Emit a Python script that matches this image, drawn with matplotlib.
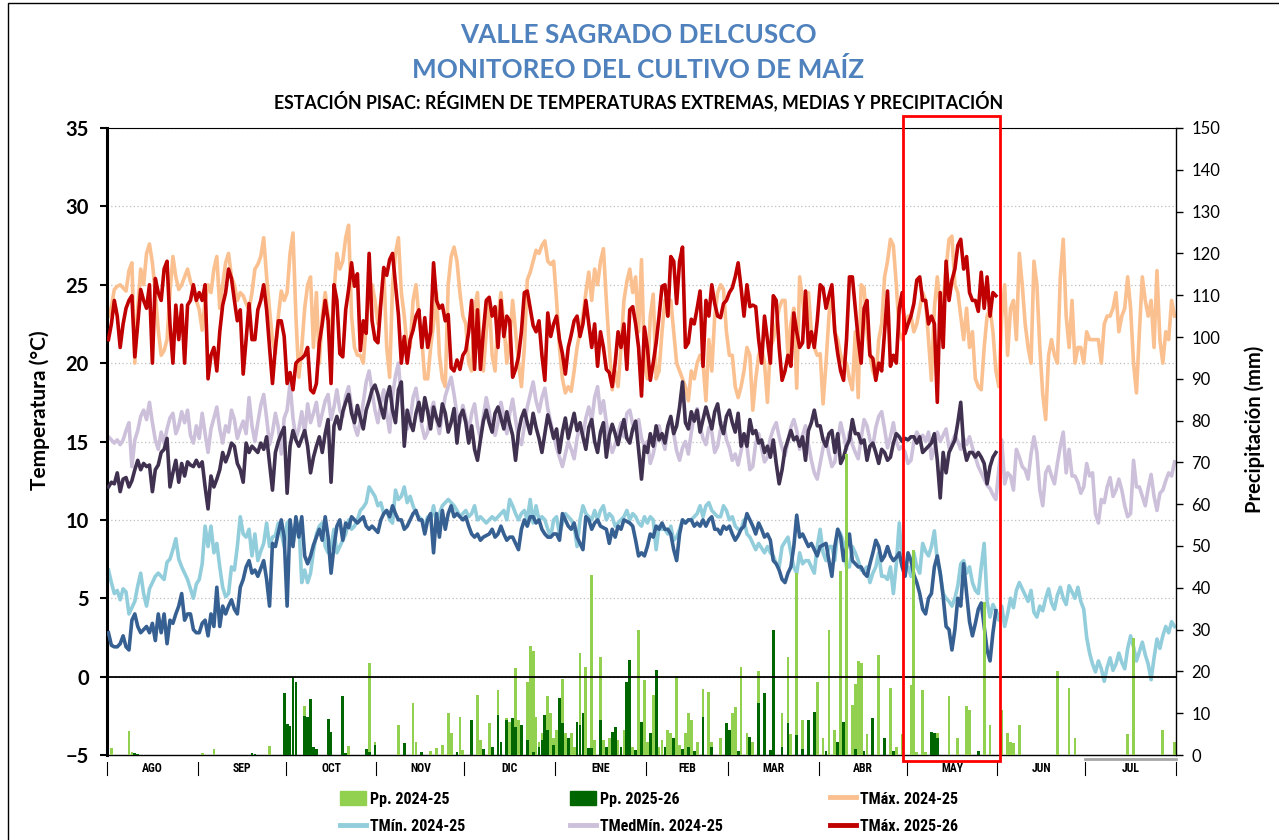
import numpy as np
import matplotlib
matplotlib.use('Agg')
import matplotlib.pyplot as plt
from matplotlib import transforms
from matplotlib import font_manager as fm
from matplotlib.patches import Rectangle, Patch
from matplotlib.lines import Line2D

# meses de la campaña (agosto a julio)
meses = ['AGO', 'SEP', 'OCT', 'NOV', 'DIC', 'ENE', 'FEB', 'MAR', 'ABR', 'MAY', 'JUN', 'JUL']
dias_mes = [31, 30, 31, 30, 31, 31, 28, 31, 30, 31, 30, 31]

# TMáx. 2024-25 (°C), un valor por día
tmax_2425 = [
    23.0, 23.6, 24.7, 24.9, 25.0, 24.8, 24.6, 25.9, 26.4, 20.0, 23.5, 26.0, 25.0, 27.0, 27.6, 26.4, 24.5, 22.1, 20.5, 20.8, 21.5, 24.5, 26.8, 25.5, 24.7, 25.0, 25.5, 26.0, 25.2, 24.7, 24.0,  # ago
    23.4, 22.1, 24.0, 25.0, 24.5, 26.0, 26.8, 23.5, 25.0, 26.4, 27.0, 25.5, 25.0, 24.0, 24.5, 24.3, 23.8, 23.4, 24.5, 26.0, 26.3, 26.8, 28.0, 25.5, 23.4, 21.5, 20.6, 23.0, 24.6, 24.0,  # sep
    24.5, 27.0, 28.3, 23.0, 19.1, 21.0, 23.5, 25.0, 25.5, 21.0, 24.5, 20.0, 23.0, 24.5, 23.0, 21.5, 24.5, 27.0, 26.0, 26.5, 28.0, 28.8, 23.0, 21.0, 20.5, 20.5, 20.0, 22.5, 24.5, 25.0, 24.0,  # oct
    22.5, 24.0, 26.0, 21.0, 19.1, 25.0, 27.0, 28.0, 24.5, 23.0, 21.0, 21.0, 24.0, 25.0, 23.0, 21.5, 19.0, 19.0, 21.0, 22.5, 24.5, 20.5, 19.0, 18.5, 25.0, 26.8, 27.4, 26.5, 24.5, 23.0,  # nov
    22.5, 20.0, 19.5, 23.5, 24.5, 21.0, 19.5, 22.0, 24.0, 20.5, 19.5, 23.0, 24.5, 22.5, 20.0, 21.5, 24.0, 22.0, 20.0, 18.5, 21.0, 25.3, 25.8, 26.5, 27.2, 27.0, 27.5, 27.8, 26.5, 26.3, 26.5,  # dic
    24.0, 21.0, 19.0, 18.1, 18.5, 18.2, 19.5, 21.0, 22.0, 23.0, 24.5, 25.8, 24.0, 26.0, 25.0, 26.5, 27.3, 24.0, 21.0, 18.3, 19.5, 18.5, 21.0, 24.0, 25.2, 26.0, 24.5, 25.5, 22.0, 26.6, 20.0,  # ene
    19.0, 23.0, 24.4, 19.0, 19.5, 22.0, 24.0, 23.0, 24.0, 22.0, 20.0, 19.5, 19.0, 18.5, 17.6, 19.5, 19.0, 20.0, 20.5, 20.0, 17.6, 21.5, 19.5, 23.0, 24.5, 25.0, 24.7, 22.0,  # feb
    20.5, 20.5, 18.5, 17.8, 18.5, 19.5, 21.0, 20.5, 17.0, 19.0, 20.5, 21.0, 20.0, 17.5, 21.0, 21.5, 22.5, 23.5, 24.0, 24.0, 20.5, 22.5, 23.5, 18.4, 25.5, 24.0, 22.5, 24.5, 22.0, 21.0, 20.5,  # mar
    20.6, 17.4, 20.0, 23.0, 24.8, 22.0, 21.5, 20.5, 20.0, 20.0, 19.0, 18.3, 22.0, 17.8, 25.0, 24.8, 22.0, 20.5, 19.5, 19.0, 21.5, 22.5, 25.5, 26.5, 27.9, 27.5, 25.0, 22.0, 21.5, 22.0,  # abr
    23.0, 23.0, 22.0, 22.5, 23.5, 24.5, 24.0, 21.5, 18.9, 23.5, 25.5, 23.5, 24.0, 26.0, 27.9, 28.1, 25.0, 24.5, 23.0, 21.5, 23.5, 21.0, 22.0, 19.0, 18.5, 18.3, 21.0, 23.0, 23.5, 22.0, 19.5,  # may
    18.5, 23.0, 25.0, 20.5, 23.5, 24.0, 21.5, 27.0, 25.0, 22.5, 21.0, 20.0, 26.5, 25.0, 21.0, 18.0, 16.4, 20.5, 21.5, 20.5, 20.0, 25.5, 27.9, 23.0, 21.0, 24.0, 20.0, 21.0, 21.0, 20.0,  # jun
    22.0, 21.5, 21.5, 21.5, 21.5, 20.0, 22.5, 23.0, 23.0, 23.5, 24.5, 22.0, 23.0, 23.5, 25.5, 23.5, 20.0, 18.1, 22.0, 25.5, 24.0, 23.0, 24.0, 21.0, 25.9, 21.5, 20.0, 22.0, 21.5, 24.0, 23.0,  # jul
]

# TMín. 2024-25 (°C)
tmin_2425 = [
    6.8, 6.0, 5.3, 5.5, 4.9, 5.6, 5.4, 4.0, 4.4, 4.8, 5.8, 6.6, 5.3, 4.5, 5.6, 6.0, 6.4, 6.6, 6.4, 6.2, 7.3, 7.5, 8.1, 8.8, 7.5, 7.0, 6.6, 6.2, 5.6, 5.0, 5.9,
    6.2, 7.2, 9.6, 8.3, 9.6, 7.9, 8.5, 7.0, 5.7, 5.1, 5.3, 7.0, 6.8, 8.3, 10.2, 9.1, 8.9, 9.4, 7.7, 9.1, 7.4, 8.0, 8.5, 9.8, 8.3, 8.9, 9.0, 9.8, 9.2, 8.3,
    9.8, 10.0, 8.5, 9.4, 9.8, 6.0, 6.8, 6.0, 6.6, 8.0, 9.1, 9.6, 9.8, 8.3, 7.9, 8.3, 9.4, 7.9, 8.3, 8.7, 9.1, 10.0, 9.4, 9.6, 10.0, 10.6, 10.8, 11.1, 12.1, 11.8, 11.5,
    10.9, 11.1, 10.4, 10.6, 10.0, 9.8, 11.9, 11.3, 11.5, 12.1, 11.1, 11.5, 10.9, 10.4, 10.2, 10.0, 9.6, 10.2, 10.0, 10.9, 9.8, 10.4, 10.9, 11.1, 11.3, 11.1, 10.9, 10.6, 10.2, 10.4,
    10.6, 10.2, 10.4, 10.9, 10.0, 10.2, 10.0, 9.8, 10.0, 10.2, 10.0, 10.2, 10.4, 10.6, 10.0, 11.3, 10.9, 10.4, 10.0, 10.4, 10.6, 10.0, 11.3, 9.8, 10.9, 10.0, 10.2, 10.0, 9.4, 8.9, 10.0,
    10.2, 9.1, 9.8, 10.4, 10.2, 10.0, 9.6, 8.3, 10.0, 10.9, 10.4, 10.2, 10.0, 10.6, 10.0, 10.6, 10.9, 10.0, 10.4, 10.2, 9.6, 9.8, 10.0, 10.2, 10.6, 10.0, 10.4, 10.2, 9.8, 9.6, 10.2,
    9.8, 10.2, 10.0, 8.1, 9.6, 9.4, 9.4, 9.1, 9.6, 8.7, 8.9, 9.4, 10.0, 9.8, 10.0, 10.0, 10.2, 10.4, 10.9, 10.2, 10.9, 11.1, 10.6, 10.4, 10.2, 10.2, 10.9, 10.6,
    10.0, 10.2, 9.6, 9.4, 9.4, 10.0, 9.1, 8.9, 8.5, 8.1, 8.5, 8.2, 7.9, 8.3, 7.9, 7.7, 7.2, 7.0, 8.3, 8.6, 8.9, 7.9, 7.0, 6.6, 7.9, 7.2, 7.4, 7.4, 7.0, 6.6, 8.3,
    9.4, 7.9, 7.4, 8.3, 8.3, 7.4, 9.4, 9.1, 8.5, 7.0, 7.0, 8.3, 7.9, 7.4, 6.8, 6.8, 7.0, 6.0, 6.6, 7.0, 7.9, 6.4, 6.4, 6.2, 7.0, 5.3, 7.2, 9.8, 7.4, 7.0,
    7.0, 6.4, 7.9, 7.0, 6.6, 8.5, 8.0, 7.7, 8.3, 9.3, 7.4, 6.6, 5.3, 5.0, 4.8, 4.5, 5.0, 5.8, 7.2, 7.4, 6.6, 7.0, 6.0, 5.5, 5.3, 7.0, 8.5, 4.8, 3.8, 4.6, 4.2,
    3.6, 4.5, 3.2, 4.0, 5.0, 4.4, 5.5, 6.0, 5.6, 5.2, 4.8, 5.5, 4.1, 3.8, 4.5, 4.2, 5.0, 5.6, 4.7, 4.3, 5.2, 5.7, 5.0, 4.6, 5.8, 5.4, 5.0, 5.7, 4.8, 4.3,
    2.5, 1.5, 0.8, 0.3, 1.0, 0.5, -0.3, 0.6, 1.2, 0.4, 0.8, 1.5, 0.9, 0.5, 1.8, 2.6, 1.9, 1.0, 1.6, 2.2, 1.4, 0.8, -0.2, 1.2, 2.4, 1.8, 2.6, 3.2, 2.8, 3.5, 3.2,
]

# TMedMín. 2024-25 (°C)
tmed_2425 = [
    15.3, 15.1, 14.9, 15.1, 14.8, 15.1, 15.7, 16.2, 13.4, 15.1, 15.7, 16.6, 17.0, 16.4, 17.5, 16.2, 15.1, 14.5, 15.6, 14.9, 15.8, 16.5, 16.8, 15.5, 16.0, 16.9, 16.2, 17.0, 15.4, 14.9, 16.0,
    15.2, 16.8, 15.5, 14.3, 15.8, 16.5, 17.2, 15.8, 14.9, 16.0, 15.6, 17.0, 16.4, 15.2, 15.8, 16.3, 15.5, 17.8, 16.0, 15.0, 16.2, 17.3, 18.0, 16.5, 14.8, 15.6, 16.8, 15.9, 14.2, 16.5,
    17.0, 18.7, 16.5, 15.2, 15.8, 16.9, 15.5, 17.4, 16.2, 16.8, 17.5, 16.0, 16.8, 17.6, 18.0, 16.4, 17.2, 18.3, 17.0, 16.6, 17.9, 18.5, 17.2, 16.0, 15.4, 16.3, 17.5, 18.8, 19.5, 18.2, 17.0,
    16.2, 17.5, 18.3, 16.8, 15.6, 17.9, 19.2, 20.0, 17.6, 16.5, 15.8, 16.3, 17.8, 18.4, 17.1, 16.0, 15.2, 15.6, 16.9, 17.5, 16.4, 15.5, 16.8, 17.9, 18.5, 19.1, 18.0, 16.7, 16.2, 17.3,
    16.5, 15.6, 16.8, 17.4, 16.0, 15.2, 16.6, 17.8, 16.9, 15.8, 15.4, 16.2, 17.5, 16.6, 15.5, 16.8, 17.7, 16.4, 15.2, 14.8, 16.0, 17.2, 18.0, 18.8, 17.6, 16.9, 17.8, 18.4, 17.1, 16.2, 15.4,
    14.6, 14.0, 13.4, 14.2, 15.0, 14.5, 13.9, 15.2, 16.0, 15.4, 16.5, 17.2, 16.3, 17.8, 18.5, 16.8, 17.6, 16.2, 15.0, 14.3, 14.8, 15.5, 16.2, 15.3, 16.8, 17.0, 16.1, 15.7, 16.4, 15.2, 14.7,
    15.0, 13.6, 14.2, 15.1, 16.0, 15.2, 14.5, 15.8, 16.3, 15.5, 14.4, 13.8, 14.6, 15.0, 14.2, 15.6, 16.6, 17.1, 16.0, 15.2, 14.8, 15.9, 15.6, 14.3, 14.7, 15.8, 16.2, 15.1,
    14.6, 13.8, 14.2, 13.5, 14.4, 15.3, 14.7, 13.2, 13.4, 14.9, 15.5, 14.6, 13.7, 14.0, 15.2, 15.8, 16.2, 15.3, 14.6, 14.1, 15.0, 15.9, 16.4, 15.7, 14.5, 15.4, 16.0, 14.8, 13.8, 13.0, 12.6,
    13.6, 14.6, 15.2, 14.2, 13.4, 13.7, 15.0, 16.2, 15.4, 14.5, 15.6, 14.8, 14.3, 13.9, 15.2, 16.4, 16.0, 15.1, 14.7, 15.9, 16.6, 16.9, 15.8, 14.6, 15.3, 16.2, 15.0, 14.5, 14.7, 14.3,
    13.6, 13.8, 15.0, 15.6, 15.2, 15.4, 15.0, 15.6, 13.9, 14.6, 15.6, 15.0, 15.4, 15.8, 14.6, 14.9, 15.4, 15.0, 14.5, 15.2, 14.8, 15.3, 14.6, 14.0, 13.4, 13.0, 12.6, 12.2, 12.0, 11.6, 11.3,
    13.2, 15.1, 12.3, 13.0, 12.8, 11.9, 14.5, 14.0, 13.4, 13.2, 12.6, 14.2, 15.3, 14.3, 11.9, 10.9, 13.0, 13.4, 12.8, 12.3, 13.6, 14.7, 15.6, 13.0, 14.5, 12.8, 12.8, 12.4, 11.7, 12.1,
    13.6, 12.8, 13.0, 10.4, 9.8, 11.3, 11.1, 12.1, 12.7, 11.5, 11.9, 12.6, 11.9, 10.9, 10.2, 10.4, 13.8, 12.1, 12.1, 11.5, 10.9, 12.0, 12.9, 11.5, 10.6, 11.7, 11.9, 12.5, 13.0, 12.8, 13.7,
]

# TMáx. 2025-26 (°C), agosto a mayo
tmax_2526 = [
    21.5, 22.5, 24.0, 23.0, 21.0, 22.5, 23.5, 24.0, 24.3, 20.4, 22.5, 24.7, 24.0, 23.5, 25.0, 20.0, 25.4, 24.5, 24.0, 26.0, 26.5, 22.5, 20.0, 23.7, 21.5, 23.7, 20.0, 23.7, 24.0, 25.0, 24.0,
    24.5, 24.0, 25.0, 19.0, 20.5, 21.0, 19.5, 22.0, 23.7, 24.5, 26.0, 25.4, 24.0, 22.7, 23.4, 19.3, 21.5, 23.8, 21.5, 21.5, 23.4, 24.0, 25.0, 23.4, 21.0, 18.7, 21.0, 22.7, 22.7, 21.7,
    18.7, 19.4, 18.3, 20.0, 20.2, 20.3, 20.5, 21.0, 18.3, 18.1, 18.7, 21.3, 22.5, 24.0, 22.7, 18.7, 25.0, 24.0, 20.6, 20.4, 23.4, 24.7, 26.4, 24.9, 25.7, 20.8, 22.7, 21.9, 27.0, 22.7, 21.5,
    21.3, 23.8, 26.1, 25.6, 26.6, 27.0, 25.0, 23.1, 20.0, 21.7, 20.0, 21.5, 22.1, 23.0, 23.4, 21.0, 22.9, 21.0, 22.0, 26.4, 24.0, 23.5, 23.7, 22.7, 23.1, 19.7, 19.5, 20.2, 19.6, 20.5,
    20.8, 22.0, 24.0, 19.6, 23.4, 19.6, 22.0, 24.0, 24.2, 23.0, 23.6, 21.0, 24.0, 21.7, 23.0, 22.7, 19.1, 19.6, 20.4, 22.0, 24.5, 24.6, 23.5, 22.4, 22.0, 22.7, 20.5, 18.9, 23.2, 21.7, 22.5,
    23.0, 21.5, 20.6, 19.3, 21.0, 21.8, 22.7, 23.0, 21.7, 22.5, 24.0, 22.5, 21.0, 22.5, 19.8, 22.0, 21.0, 19.6, 19.4, 18.5, 20.0, 22.0, 21.0, 22.5, 19.6, 23.4, 23.6, 22.5, 21.0, 17.9, 22.3,
    21.0, 18.9, 20.0, 21.3, 23.0, 24.9, 25.0, 23.0, 26.8, 26.5, 23.8, 26.5, 27.4, 21.0, 21.3, 22.8, 22.5, 23.5, 24.6, 19.8, 24.0, 23.0, 25.0, 23.8, 23.0, 22.9, 23.8, 24.0,
    24.5, 24.8, 25.5, 26.4, 24.8, 23.0, 25.0, 23.6, 23.7, 23.6, 21.5, 20.0, 23.0, 21.5, 20.0, 24.3, 24.0, 21.0, 18.9, 19.5, 20.5, 19.8, 23.2, 22.0, 21.0, 21.3, 24.6, 21.0, 22.0, 21.0, 22.7,
    25.0, 24.8, 23.5, 24.3, 25.0, 22.0, 20.6, 19.5, 18.9, 21.5, 25.5, 25.5, 23.5, 21.5, 20.0, 23.5, 24.0, 20.5, 20.3, 18.9, 20.0, 19.5, 22.0, 24.6, 19.8, 20.5, 20.0, 23.5, 24.5, 21.9,
    22.5, 23.0, 23.8, 25.3, 25.5, 24.0, 24.0, 22.5, 23.0, 22.5, 17.5, 24.5, 21.0, 26.5, 24.0, 25.3, 26.0, 27.5, 27.9, 26.0, 26.8, 24.5, 24.0, 24.0, 23.3, 25.8, 23.5, 25.5, 23.0, 24.5, 24.3,
]

# TMedMín. 2025-26 (°C)
tmed_2526 = [
    12.1, 12.4, 12.3, 13.0, 11.8, 12.6, 12.7, 12.1, 12.5, 13.2, 13.8, 13.2, 13.6, 13.4, 13.5, 11.8, 13.2, 13.5, 14.3, 14.5, 15.2, 12.1, 13.0, 13.8, 12.4, 13.6, 12.8, 13.7, 13.5, 13.4, 13.8,
    13.4, 13.7, 12.1, 10.7, 12.8, 12.1, 12.6, 13.2, 14.3, 13.7, 14.2, 14.9, 14.7, 13.6, 13.2, 12.4, 14.9, 14.3, 14.7, 14.5, 14.3, 14.9, 14.5, 15.3, 13.6, 11.9, 14.3, 15.0, 15.5, 15.9,
    11.7, 14.7, 15.7, 15.1, 14.7, 15.2, 15.7, 14.7, 13.0, 14.0, 14.7, 15.3, 14.3, 15.5, 16.4, 12.4, 16.0, 16.6, 15.8, 16.9, 17.5, 18.0, 16.8, 16.2, 17.3, 16.5, 15.8, 17.0, 17.6, 18.3, 18.6,
    18.0, 17.2, 16.5, 17.8, 18.5, 17.0, 16.2, 18.3, 18.8, 14.7, 17.0, 16.2, 15.7, 16.8, 17.5, 16.3, 17.8, 16.9, 15.8, 17.2, 16.5, 16.0, 17.4, 16.8, 15.6, 16.2, 17.1, 14.9, 16.6, 17.0,
    16.2, 14.9, 16.0, 14.5, 13.8, 15.1, 16.3, 17.0, 16.2, 15.6, 16.8, 17.2, 16.5, 15.8, 16.9, 16.1, 15.4, 13.8, 15.6, 16.5, 17.0, 16.2, 15.5, 16.8, 15.9, 15.2, 14.3, 15.5, 16.7, 16.0, 15.2,
    15.8, 14.3, 15.6, 16.5, 15.2, 16.0, 16.8, 15.7, 16.2, 15.3, 14.5, 15.9, 16.4, 15.0, 14.3, 15.6, 16.2, 14.0, 15.4, 16.1, 15.5, 14.8, 15.7, 16.4, 15.2, 14.9, 15.8, 16.3, 14.5, 12.6, 14.7,
    14.3, 15.5, 14.7, 16.0, 15.1, 15.5, 14.9, 16.0, 16.6, 15.5, 16.0, 17.2, 18.8, 16.2, 15.8, 16.9, 16.3, 17.0, 15.6, 16.4, 17.2, 16.5, 15.8, 16.9, 17.4, 16.1, 15.5, 16.6,
    17.0, 16.2, 15.6, 16.8, 14.7, 15.5, 14.7, 16.4, 15.5, 15.7, 14.9, 15.1, 14.3, 14.7, 14.0, 15.1, 13.6, 12.3, 13.2, 14.5, 15.1, 15.7, 15.1, 15.3, 14.7, 15.3, 13.8, 15.7, 16.2, 17.0, 16.0,
    16.0, 15.1, 14.7, 15.5, 15.7, 14.3, 15.5, 13.6, 14.0, 14.7, 15.1, 16.4, 15.5, 15.5, 14.9, 15.1, 13.8, 14.7, 14.9, 14.3, 13.6, 14.5, 14.3, 13.8, 14.0, 14.9, 15.5, 15.3, 15.0, 15.2,
    15.1, 15.3, 15.3, 14.9, 15.3, 14.3, 14.5, 14.7, 14.9, 15.5, 13.8, 11.4, 14.3, 13.0, 14.3, 14.7, 15.1, 16.2, 17.5, 14.7, 13.8, 14.3, 14.3, 14.0, 14.3, 14.0, 13.6, 12.3, 13.4, 14.0, 14.3,
]

# TMín. 2025-26 (°C)
tmin_2526 = [
    2.8, 2.0, 1.9, 1.9, 2.1, 2.6, 1.9, 1.7, 3.6, 4.0, 3.2, 2.8, 3.0, 3.2, 2.8, 3.4, 2.3, 4.0, 2.8, 4.0, 2.1, 3.6, 3.4, 4.0, 4.5, 5.3, 3.6, 4.0, 4.0, 3.0, 2.8,
    2.8, 3.4, 3.6, 2.6, 4.0, 3.2, 5.7, 3.2, 4.5, 4.0, 4.5, 4.9, 4.3, 4.0, 5.7, 6.2, 7.0, 7.4, 6.6, 6.8, 6.4, 6.9, 7.4, 6.2, 4.5, 8.5, 8.3, 9.2, 10.0, 8.9,
    4.5, 10.0, 8.3, 10.2, 8.9, 10.2, 7.7, 7.2, 7.7, 8.4, 8.9, 9.4, 8.7, 10.2, 8.9, 6.6, 8.3, 9.6, 10.0, 8.7, 9.8, 9.5, 10.2, 10.0, 9.8, 10.0, 10.2, 9.6, 9.4, 9.6, 9.4,
    9.2, 10.0, 10.4, 10.6, 10.2, 10.9, 10.4, 10.0, 10.0, 9.4, 9.6, 10.0, 10.4, 10.6, 10.0, 10.0, 9.1, 10.0, 10.4, 7.9, 10.4, 8.9, 10.6, 9.4, 10.4, 10.9, 10.2, 10.4, 10.2, 10.0,
    10.2, 9.6, 9.1, 8.9, 9.1, 8.7, 8.9, 9.0, 9.1, 9.4, 8.9, 9.1, 9.6, 9.1, 8.7, 8.9, 8.9, 8.5, 8.1, 9.4, 10.0, 9.6, 10.2, 10.2, 9.8, 10.0, 9.4, 9.1, 8.9, 8.9, 9.1,
    9.1, 8.7, 10.4, 10.0, 9.6, 9.4, 9.8, 8.9, 8.5, 8.1, 10.2, 10.0, 9.4, 9.8, 10.0, 9.6, 9.5, 9.4, 8.5, 9.4, 8.9, 9.6, 9.4, 10.0, 9.9, 9.8, 9.6, 8.7, 7.7, 7.9, 7.7,
    8.3, 9.1, 8.9, 9.6, 9.4, 9.8, 9.4, 9.4, 9.1, 8.1, 7.4, 9.1, 10.0, 9.8, 10.0, 10.0, 9.6, 9.8, 9.6, 10.0, 9.6, 10.0, 10.2, 9.4, 9.4, 9.1, 9.6, 9.4,
    9.6, 9.1, 8.7, 9.0, 9.4, 9.6, 10.4, 10.0, 9.6, 9.1, 9.8, 9.4, 8.9, 9.1, 8.7, 7.4, 7.2, 6.8, 6.2, 6.0, 6.6, 7.0, 8.3, 10.3, 8.9, 9.1, 8.7, 8.3, 8.5, 8.1, 7.7,
    8.3, 8.4, 8.5, 7.4, 6.4, 8.3, 9.4, 8.9, 7.4, 8.2, 9.1, 7.4, 7.2, 7.0, 7.0, 6.6, 6.4, 7.2, 7.9, 8.7, 8.3, 7.4, 7.7, 8.3, 7.7, 7.4, 7.6, 7.9, 7.0, 6.4,
    7.9, 7.4, 6.5, 6.0, 5.3, 4.3, 4.0, 5.0, 5.3, 7.0, 7.7, 6.6, 5.1, 3.2, 3.0, 1.7, 3.0, 5.0, 4.5, 7.2, 5.3, 3.5, 2.6, 3.4, 4.3, 4.7, 3.2, 1.7, 1.0, 2.8, 4.2,
]

# Precipitación diaria (mm): día de campaña (0 = 1 de agosto) y lámina
pp2425_dia = [1, 7, 8, 32, 36, 55, 67, 82, 89, 91, 99, 104, 105, 110, 112, 114, 116, 117, 120, 121,
              124, 126, 127, 128, 130, 133, 134, 136, 137, 139, 140, 141, 143, 144, 145, 146, 147, 148, 150, 151,
              152, 153, 155, 156, 157, 158, 159, 161, 162, 163, 165, 166, 168, 169, 171, 172, 174, 176, 178, 179,
              181, 183, 184, 186, 188, 189, 191, 192, 194, 195, 197, 198, 199, 201, 203, 205, 206, 209, 211, 213,
              214, 216, 218, 220, 222, 224, 227, 230, 232, 233, 235, 237, 239, 242, 244, 246, 248, 250, 252, 254,
              255, 256, 257, 259, 261, 263, 265, 267, 269, 271, 274, 275, 276, 278, 279, 283, 287, 290, 293, 294,
              297, 299, 301, 305, 307, 308, 309, 311, 324, 328, 330, 348, 350, 360, 364]
pp2425_mm = [1.6, 5.8, 0.8, 0.5, 1.4, 2.2, 11.7, 2.2, 21.9, 3.2, 7.2, 12.4, 3.2, 1.0, 1.6, 2.4, 10.0, 5.2, 9.2, 1.2,
             2.0, 14.4, 3.6, 1.5, 7.6, 15.6, 2.5, 8.8, 8.0, 20.7, 8.4, 3.6, 17.5, 26.0, 25.0, 9.2, 3.0, 5.2, 14.0, 10.0,
             4.0, 6.0, 18.3, 5.2, 2.5, 5.2, 2.0, 24.3, 4.5, 21.0, 43.0, 3.6, 23.5, 3.6, 4.0, 2.0, 3.6, 6.0, 4.4, 2.0,
             30.0, 18.0, 3.0, 14.4, 2.0, 3.6, 6.0, 5.2, 19.0, 2.5, 5.2, 10.0, 8.4, 3.0, 15.7, 15.0, 3.0, 4.0, 2.0, 10.0,
             11.5, 21.0, 5.2, 3.0, 20.0, 4.0, 13.0, 10.0, 23.5, 5.0, 43.5, 8.4, 3.0, 17.5, 4.0, 30.0, 6.0, 44.0, 72.0, 12.0,
             17.0, 22.5, 22.0, 5.0, 3.0, 24.0, 4.0, 16.0, 2.0, 5.0, 16.7, 49.0, 0.8, 15.6, 0.8, 5.2, 14.0, 4.0, 11.7, 10.8,
             0.4, 36.7, 7.2, 10.8, 5.2, 3.2, 2.8, 7.2, 20.0, 16.0, 4.0, 5.0, 28.0, 6.0, 3.0]

pp2526_dia = [9, 10, 49, 50, 60, 61, 62, 63, 64, 67, 68, 69, 70, 71, 75, 76, 80, 81, 88, 89,
              91, 101, 107, 119, 124, 128, 131, 133, 134, 136, 138, 139, 141, 143, 145, 147, 148, 149, 150, 152,
              154, 155, 157, 160, 161, 162, 164, 165, 168, 170, 172, 173, 175, 177, 178, 180, 182, 185, 187, 190,
              193, 196, 198, 200, 203, 206, 211, 212, 215, 219, 222, 224, 226, 227, 230, 232, 235, 237, 239, 241,
              245, 249, 251, 255, 258, 261, 265, 268, 281, 282, 283, 297]
pp2526_mm = [0.5, 0.3, 0.5, 0.3, 14.8, 7.4, 7.0, 18.6, 17.5, 9.3, 9.0, 13.3, 2.0, 1.5, 8.5, 5.6, 14.1, 0.5, 1.5, 0.8,
             2.4, 2.8, 0.8, 0.8, 8.4, 1.5, 2.0, 9.6, 3.0, 8.4, 8.8, 6.8, 7.2, 3.6, 0.8, 2.0, 3.6, 9.6, 6.0, 2.5,
             13.6, 7.6, 4.0, 8.0, 7.2, 10.0, 1.6, 1.6, 8.4, 2.0, 5.6, 6.8, 2.0, 17.5, 22.7, 1.2, 8.0, 5.2, 20.3, 2.0,
             4.0, 1.5, 2.0, 1.0, 9.2, 2.0, 7.6, 6.0, 1.0, 4.4, 12.4, 14.8, 1.2, 30.0, 2.0, 7.6, 4.8, 1.5, 8.4, 10.4,
             1.0, 3.2, 8.0, 1.5, 1.0, 8.8, 4.0, 1.0, 5.6, 5.2, 4.0, 1.0]

# fuentes
disponibles = {f.name for f in fm.fontManager.ttflist}

def fuente(*opciones):
    for nombre in opciones:
        if nombre in disponibles:
            return nombre
    return 'DejaVu Sans'

principal = fuente('Lato', 'Open Sans', 'Liberation Sans')
estrecha = fuente('Liberation Sans Narrow', 'Roboto Condensed', 'Liberation Sans')
plt.rcParams['font.family'] = [principal, 'DejaVu Sans']

dias_2425 = np.arange(365)
dias_2526 = np.arange(304)
bordes = np.concatenate([[0], np.cumsum(dias_mes)]) - 0.5
centros = (bordes[:-1] + bordes[1:]) / 2

fig = plt.figure(figsize=(12.79, 8.40), dpi=100)
ax = fig.add_axes([107 / 1279, 1 - 755 / 840, (1176 - 107) / 1279, (755 - 128) / 840])
ax2 = ax.twinx()

# líneas de temperatura (eje izquierdo)
lw = 2.6
ax.plot(dias_2425, tmax_2425, color='#FAC090', lw=lw, zorder=2)
ax.plot(dias_2425, tmed_2425, color='#CCC0DA', lw=lw, zorder=2)
ax.plot(dias_2425, tmin_2425, color='#92CDDC', lw=lw, zorder=2)
ax.plot(dias_2526, tmax_2526, color='#C00000', lw=lw, zorder=3)
ax.plot(dias_2526, tmed_2526, color='#403151', lw=lw, zorder=3)
ax.plot(dias_2526, tmin_2526, color='#376092', lw=lw, zorder=3)

ax.set_xlim(bordes[0], bordes[-1])
ax.set_ylim(-5, 35)
ax.set_yticks(range(-5, 36, 5))
ax.grid(axis='y', linestyle=(0, (1, 2)), color='#BFBFBF', lw=0.9)
ax.set_axisbelow(True)
ax.tick_params(axis='x', bottom=False, labelbottom=False)
ax.tick_params(axis='y', direction='out', length=5, width=1.5, labelsize=14.5, pad=8)
for t in ax.get_yticklabels():
    t.set_fontweight('bold')
ax.spines['left'].set_linewidth(2.2)
ax.spines['top'].set_linewidth(0.8)
ax.spines['bottom'].set_linewidth(1.0)
ax.spines['right'].set_visible(False)
ax.set_ylabel('Temperatura (°C)', fontsize=15, fontweight='bold')
ax.yaxis.set_label_coords(-0.053, 0.55)

# precipitación (eje derecho)
ax2.bar(pp2425_dia, pp2425_mm, width=0.95, color='#92D050', zorder=2)
ax2.bar(pp2526_dia, pp2526_mm, width=0.95, color='#006600', zorder=3)
ax2.set_ylim(0, 150)
ax2.set_yticks(range(0, 151, 10))
ax2.tick_params(axis='y', direction='out', length=5, width=1.0, labelsize=12, pad=6)
for lado in ['left', 'top', 'bottom']:
    ax2.spines[lado].set_visible(False)
ax2.spines['right'].set_linewidth(1.0)
ax2.set_ylabel('Precipitación (mm)', fontsize=14.5, fontweight='bold', rotation=90)
ax2.yaxis.set_label_coords(1.064, 0.52)

# línea del cero de temperatura por encima de las barras
cero = Line2D([0, 1], [0, 0], color='black', lw=1.3, zorder=6,
              transform=transforms.blended_transform_factory(ax2.transAxes, ax.transData))
ax2.add_line(cero)

# etiquetas de meses y separadores
trans = transforms.blended_transform_factory(ax.transData, ax.transAxes)
for c, m in zip(centros, meses):
    ax.text(c, -0.021, m, transform=trans, ha='center', va='center', fontsize=8.5,
            fontweight='bold', family=[estrecha, 'DejaVu Sans'])
for b in bordes:
    ax.plot([b, b], [-0.011, -0.032], transform=trans, color='black', lw=0.8, clip_on=False)
ax.plot([bordes[-2], bordes[-1]], [-0.006, -0.006], transform=trans, color='#A6A6A6', lw=2, clip_on=False)

# recuadro rojo sobre mayo
mayo = meses.index('MAY')
ax2.add_patch(Rectangle((bordes[mayo] - 1.3, -0.01), bordes[mayo + 1] - bordes[mayo] + 2.1, 1.029,
                        transform=trans, fill=False, edgecolor='#FF0000', lw=2.0, clip_on=False, zorder=10))

# títulos
azul = '#4F81BD'
fig.text(0.499, 1 - 35 / 840, 'VALLE SAGRADO DELCUSCO', ha='center', va='center',
         fontsize=18.8, fontweight='bold', color=azul)
fig.text(0.499, 1 - 70 / 840, 'MONITOREO DEL CULTIVO DE MAÍZ', ha='center', va='center',
         fontsize=18.8, fontweight='bold', color=azul)
fig.text(0.499, 1 - 101 / 840,
         'ESTACIÓN PISAC: RÉGIMEN DE TEMPERATURAS EXTREMAS, MEDIAS Y PRECIPITACIÓN',
         ha='center', va='center', fontsize=12.8, fontweight='bold', color='black')

# marco del gráfico
fig.add_artist(Rectangle((8 / 1279, -0.05), 1.2, 1.05 - 3 / 840, transform=fig.transFigure,
                         fill=False, edgecolor='black', lw=1.0))

# leyenda en tres columnas
prop_ley = {'family': [estrecha, 'DejaVu Sans'], 'weight': 'bold', 'size': 11.5}
columnas = [
    ([Patch(color='#92D050'), Line2D([], [], color='#92CDDC', lw=3.5)], ['Pp. 2024-25', 'TMín. 2024-25'], 340),
    ([Patch(color='#006600'), Line2D([], [], color='#CCC0DA', lw=3.5)], ['Pp. 2025-26', 'TMedMín. 2024-25'], 570),
    ([Line2D([], [], color='#FAC090', lw=3.5), Line2D([], [], color='#C00000', lw=3.5)], ['TMáx. 2024-25', 'TMáx. 2025-26'], 830),
]
for manejadores, etiquetas, xpix in columnas:
    fig.legend(manejadores, etiquetas, loc='upper left', bbox_to_anchor=(xpix / 1279, 1 - 791 / 840),
               frameon=False, handlelength=1.6, handleheight=1.0, handletextpad=0.3,
               labelspacing=0.75, borderaxespad=0, borderpad=0, prop=prop_ley)

fig.savefig('out.png', dpi=100)
